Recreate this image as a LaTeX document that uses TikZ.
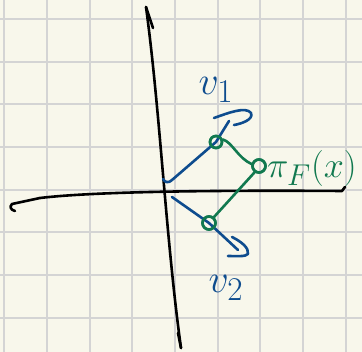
\documentclass[tikz,border=0pt]{standalone}
\usepackage{graphicx}
\usepackage{tikz}
\definecolor{paper}{HTML}{F8F7EB}
\definecolor{gridc}{HTML}{D4D4D4}
\definecolor{penblue}{HTML}{0E4C8E}
\definecolor{pengreen}{HTML}{11794F}
\newcommand{\biglab}[2][1.6]{\scalebox{#1}{\Huge$#2$}}
\begin{document}
\begin{tikzpicture}[x=1pt,y=-1pt,
  gridline/.style={gridc,line width=2pt},
  axis/.style={black,line width=2.6pt,line cap=round,line join=round},
  bluepen/.style={penblue,line width=2.6pt,line cap=round,line join=round},
  greenpen/.style={pengreen,line width=2.6pt,line cap=round,line join=round},
  dot/.style={circle,draw=pengreen,line width=2.6pt,minimum size=12pt,inner sep=0pt},
  lab/.style={inner sep=0pt}]
\useasboundingbox (0,0) rectangle (362,352);
\fill[paper] (0,0) rectangle (362,352);
\foreach \k in {0,...,8} \draw[gridline] ({4.3+42.67*\k},0) -- ({4.3+42.67*\k},352);
\foreach \k in {0,...,7} \draw[gridline] (0,{19+42.7*\k}) -- (362,{19+42.7*\k});
% axes
\coordinate (yt) at (146,7);
\coordinate (yb) at (181,348);
\coordinate (xl) at (40,198);
\coordinate (xr) at (342,191);
\draw[axis] (yt) .. controls (160,110) and (166,240) .. (yb);
\draw[axis] (yt) -- (153,28);
\draw[axis] (yb) -- (178,333);
\draw[axis] (xl) -- (12,204) .. controls (9,207) and (11,210) .. (15,211);
\draw[axis] (xl) .. controls (90,192) and (200,190) .. (xr) -- (345,187);
% green points
\node[dot] (p1) at (216,142) {};
\node[dot,minimum size=13pt] (px) at (259,166) {};
\node[dot,minimum size=13pt] (p2) at (209,223) {};
% blue vectors
\coordinate (b1s) at (163,179);
\coordinate (b1e) at (229,121);
\draw[bluepen] (b1s) .. controls (165,183) and (169,183) .. (172,180) -- (p1.center) -- (b1e);
\draw[bluepen] (214,118) .. controls (228,113) and (246,106) .. (251,113) .. controls (254,120) and (240,124) .. (234,125);
\coordinate (b2s) at (172,197);
\coordinate (b2e) at (238,250);
\draw[bluepen] (b2s) -- (p2.center) -- (b2e);
\draw[bluepen] (232,237) .. controls (242,242) and (249,248) .. (248,254) .. controls (246,257) and (235,256) .. (228,256);
% green connectors
\draw[greenpen] (p1.20) .. controls (232,142) and (238,158) .. (px.165);
\draw[greenpen] (px.235) -- (p2.50);
\node[dot] at (216,142) {};
\node[dot,minimum size=13pt] at (259,166) {};
\node[dot,minimum size=13pt] at (209,223) {};
% labels
\node[lab,text=penblue] (v1) at (216,90) {\biglab{v_1}};
\node[lab,text=penblue] (v2) at (226,288) {\biglab{v_2}};
\node[lab,text=pengreen,anchor=west] (pil) at (267,168) {\biglab[1.45]{\pi_F(x)}};
\end{tikzpicture}
\end{document}
